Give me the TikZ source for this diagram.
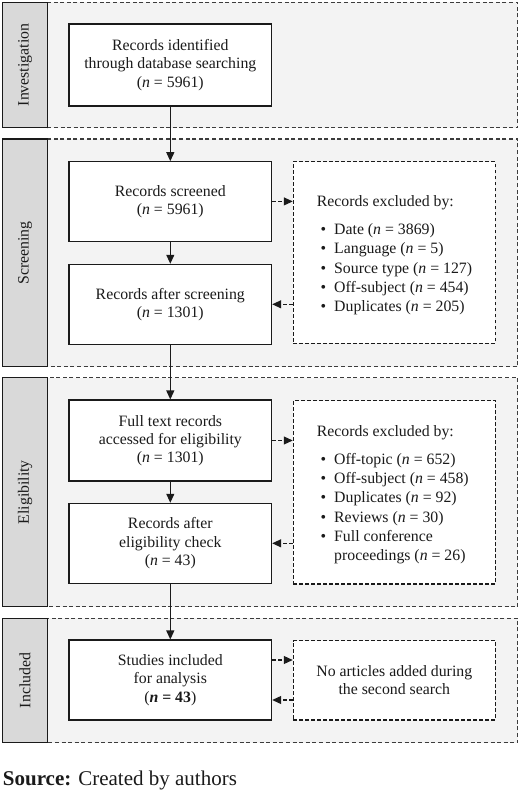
\documentclass[tikz,border=0pt]{standalone}
\usepackage{fontspec}
\setmainfont{Liberation Serif}
\usetikzlibrary{arrows.meta}
\definecolor{panelfill}{HTML}{F3F3F3}
\definecolor{labelfill}{HTML}{D9D9D9}
\definecolor{ink}{HTML}{1A1A1A}
\newcommand{\bul}[1]{\hspace*{3.8pt}\makebox[13.5pt][l]{\textbullet}#1}
\begin{document}
\begin{tikzpicture}[x=1pt,y=-1pt,
 panel/.style={draw=ink!85, fill=panelfill, line width=1.1pt, dash pattern=on 4pt off 2.6pt},
 phase/.style={draw=ink, fill=labelfill, line width=1.1pt},
 phasetxt/.style={rotate=90, font=\fontsize{15.8}{18}\selectfont, text=ink, inner sep=0pt},
 mainbox/.style={draw=ink, fill=white, line width=1.1pt, minimum width=202.7pt, align=center, font=\fontsize{15.8}{18.3}\selectfont, text=ink, inner sep=0pt},
 exbox/.style={draw=ink, fill=white, line width=1.1pt, dash pattern=on 3.5pt off 2.5pt, minimum width=202pt, inner sep=0pt, align=center, font=\fontsize{15.8}{18}\selectfont, text=ink},
 listtxt/.style={align=left, font=\fontsize{15.8}{19.3}\selectfont, text=ink, inner sep=0pt, anchor=west},
 flow/.style={draw=ink, line width=1.1pt, -{Triangle[length=9pt,width=8pt]}},
 dflow/.style={flow, dash pattern=on 3.5pt off 2.5pt}]
\useasboundingbox (0,0) rectangle (520,792);

% panels
\draw[panel] (47.3,2.3) rectangle (517.7,127.7);
\draw[panel] (47.3,139) rectangle (517.7,366.7);
\draw[panel] (47.3,377.7) rectangle (517.7,606.7);
\draw[panel] (47.3,618.3) rectangle (517.7,742.7);
\draw[phase] (2.7,2.3) rectangle (47.3,127.7);
\draw[phase] (2.7,139) rectangle (47.3,366.7);
\draw[phase] (2.7,377.7) rectangle (47.3,606.7);
\draw[phase] (2.7,618.3) rectangle (47.3,742.7);
\node[phasetxt] (pinv) at (25,65) {Investigation};
\node[phasetxt] (pscr) at (25,252.8) {Screening};
\node[phasetxt] (pelg) at (25,492.2) {Eligibility};
\node[phasetxt] (pinc) at (25,680.5) {Included};

% main boxes
\node[mainbox, minimum height=82pt] (inv) at (170.3,65) {Records identified\\through database searching\\(\textit{n} = 5961)};
\node[mainbox, minimum height=79.3pt] (scr) at (170.3,201.4) {Records screened\\(\textit{n} = 5961)};
\node[mainbox, minimum height=80pt] (aft) at (170.3,304.3) {Records after screening\\(\textit{n} = 1301)};
\node[mainbox, minimum height=81pt] (ful) at (170.3,440.5) {Full text records\\accessed for eligibility\\(\textit{n} = 1301)};
\node[mainbox, minimum height=80pt] (elg) at (170.3,543.3) {Records after\\eligibility check\\(\textit{n} = 43)};
\node[mainbox, minimum height=80pt] (inc) at (170.3,680) {Studies included\\for analysis\\(\textbf{\textit{n} = 43})};

% exclusion boxes
\node[exbox, minimum height=181.6pt] (ex1) at (394.3,252.5) {};
\node[exbox, minimum height=183.3pt] (ex2) at (394.3,492.3) {};
\node[exbox, minimum height=79.3pt] (ex3) at (394.3,680.3) {No articles added during\\the second search};

\node[listtxt] (ex1t) at (316.7,255.3) {Records excluded by:\\[8.5pt]
\bul{Date (\textit{n} = 3869)}\\
\bul{Language (\textit{n} = 5)}\\
\bul{Source type (\textit{n} = 127)}\\
\bul{Off-subject (\textit{n} = 454)}\\
\bul{Duplicates (\textit{n} = 205)}};

\node[listtxt] (ex2t) at (316.7,494.8) {Records excluded by:\\[8.5pt]
\bul{Off-topic (\textit{n} = 652)}\\
\bul{Off-subject (\textit{n} = 458)}\\
\bul{Duplicates (\textit{n} = 92)}\\
\bul{Reviews (\textit{n} = 30)}\\
\bul{Full conference}\\
\hspace*{17.3pt}proceedings (\textit{n} = 26)};

% flow arrows
\draw[flow] (inv) -- (scr);
\draw[flow] (scr) -- (aft);
\draw[flow] (aft) -- (ful);
\draw[flow] (ful) -- (elg);
\draw[flow] (elg) -- (inc);

\draw[dflow] (scr.east) -- (scr.east -| ex1.west);
\draw[dflow] (aft.east -| ex1.west) -- (aft.east);
\draw[dflow] (ful.east) -- (ful.east -| ex2.west);
\draw[dflow] (elg.east -| ex2.west) -- (elg.east);
\coordinate (incu) at ([yshift=20pt]inc.east);
\coordinate (incd) at ([yshift=-20pt]inc.east);
\draw[dflow] (incu) -- (incu -| ex3.west);
\draw[dflow] (incd -| ex3.west) -- (incd);

\node[anchor=base west, inner sep=0pt, font=\fontsize{21}{25}\selectfont, text=ink] (src) at (2.7,785) {\textbf{Source:} Created by authors};
\end{tikzpicture}
\end{document}
